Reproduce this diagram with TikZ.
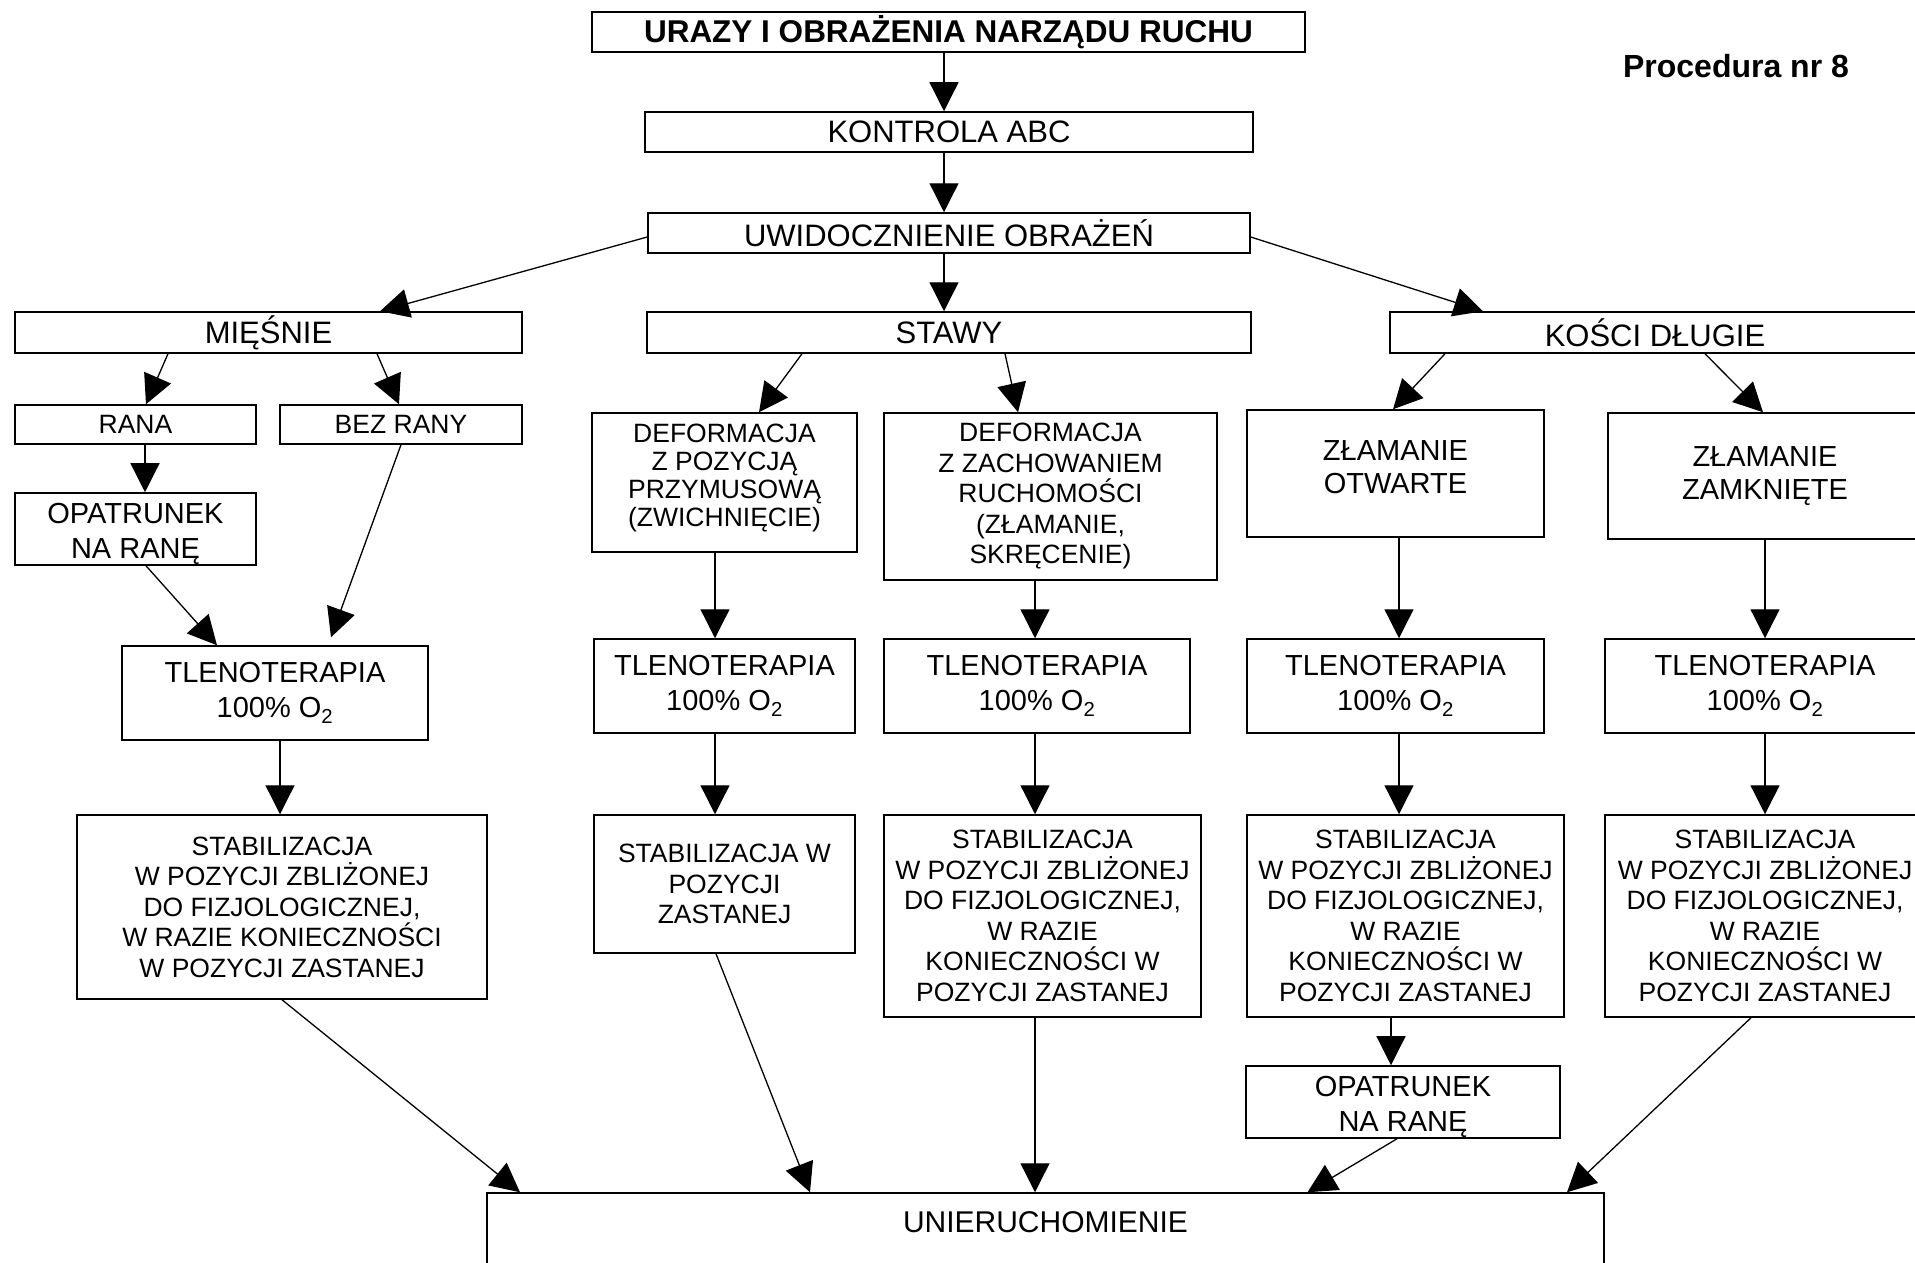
\documentclass[tikz,border=0pt]{standalone}
\usepackage{fontspec}
\setmainfont{Liberation Sans}
\usepackage{graphicx}
\usetikzlibrary{arrows.meta}
\tikzset{
  bx/.style={draw, line width=1.5pt, rectangle, inner sep=0pt, align=center},
  wh/.style 2 args={minimum width=#1pt, minimum height=#2pt},
  fA/.style={font=\fontsize{26.5}{30.5}\selectfont},
  fD/.style={font=\fontsize{26.5}{28}\selectfont},
  fB/.style={font=\fontsize{29}{35}\selectfont},
  fZ/.style={font=\fontsize{29}{33}\selectfont},
  fC/.style={font=\fontsize{31}{36}\selectfont},
  arr/.style={line width=1.3pt, -{Triangle[length=29pt,width=29pt]}},
}
\begin{document}
\begin{tikzpicture}[x=1pt,y=-1pt]
\useasboundingbox (0,0) rectangle (1915,1263);
\clip (0,0) rectangle (1915,1263);
\fill[white] (0,0) rectangle (1915,1263);

\node[bx,wh={713}{40},font=\bfseries\fontsize{31.5}{36}\selectfont] (top) at (948.5,32) {URAZY I OBRAŻENIA NARZĄDU RUCHU};
\node[font=\bfseries\fontsize{32}{38}\selectfont] (proc) at (1736,66) {Procedura nr 8};
\node[bx,fC,wh={608}{40}] (kontrola) at (949,132) {KONTROLA ABC};
\node[bx,fC,wh={602}{40}] (uwid) at (949,233) {UWIDOCZNIENIE OBRAŻEŃ};
\node[bx,fC,wh={507}{41}] (miesnie) at (268.5,332.5) {MIĘŚNIE};
\node[bx,fC,wh={604}{41}] (stawy) at (949,332.5) {STAWY};
\node[bx,fC,wh={530}{41}] (kosci) at (1655,332.5) {KOŚCI DŁUGIE};

\node[bx,fA,wh={241}{39}] (rana) at (135.5,424.5) {RANA};
\node[bx,fA,wh={242}{39}] (bezrany) at (401,424.5) {BEZ RANY};
\node[bx,fB,wh={241}{70}] (opat1) at (135.5,529) {\rule{0pt}{31pt}OPATRUNEK\\NA RANĘ};
\node[bx,fB,wh={306}{94}] (tleno1) at (275,693) {TLENOTERAPIA\\100\% O\textsubscript{2}};
\node[bx,fA,wh={410}{184}] (stab1) at (282,907) {STABILIZACJA\\W POZYCJI ZBLIŻONEJ\\DO FIZJOLOGICZNEJ,\\W RAZIE KONIECZNOŚCI\\W POZYCJI ZASTANEJ};

\node[bx,fD,wh={265}{139}] (def1) at (724.5,482.5) {DEFORMACJA\\Z POZYCJĄ\\PRZYMUSOWĄ\\(ZWICHNIĘCIE)\rule[-14pt]{0pt}{0pt}};
\node[bx,fB,wh={261}{94}] (tleno2) at (724.5,686) {TLENOTERAPIA\\100\% O\textsubscript{2}};
\node[bx,fA,wh={261}{138}] (stab2) at (724.5,884) {STABILIZACJA W\\POZYCJI\\ZASTANEJ};

\node[bx,fA,wh={333}{167}] (def2) at (1050.5,496.5) {DEFORMACJA\\Z ZACHOWANIEM\\RUCHOMOŚCI\\(ZŁAMANIE,\\SKRĘCENIE)};
\node[bx,fB,wh={306}{94}] (tleno3) at (1037,686) {TLENOTERAPIA\\100\% O\textsubscript{2}};
\node[bx,fA,wh={317}{202}] (stab3) at (1042.5,916) {STABILIZACJA\\W POZYCJI ZBLIŻONEJ\\DO FIZJOLOGICZNEJ,\\W RAZIE\\KONIECZNOŚCI W\\POZYCJI ZASTANEJ};

\node[bx,fZ,wh={297}{127}] (zlotw) at (1395.5,473.5) {ZŁAMANIE\\OTWARTE\rule[-12pt]{0pt}{0pt}};
\node[bx,fB,wh={297}{94}] (tleno4) at (1395.5,686) {TLENOTERAPIA\\100\% O\textsubscript{2}};
\node[bx,fA,wh={317}{202}] (stab4) at (1405.5,916) {STABILIZACJA\\W POZYCJI ZBLIŻONEJ\\DO FIZJOLOGICZNEJ,\\W RAZIE\\KONIECZNOŚCI W\\POZYCJI ZASTANEJ};
\node[bx,fB,wh={314}{70}] (opat2) at (1403,1102) {\rule{0pt}{31pt}OPATRUNEK\\NA RANĘ};

\node[bx,fZ,wh={314}{126}] (zlzam) at (1765,476) {ZŁAMANIE\\ZAMKNIĘTE};
\node[bx,fB,wh={320}{94}] (tleno5) at (1765,686) {TLENOTERAPIA\\100\% O\textsubscript{2}};
\node[bx,fA,wh={320}{202}] (stab5) at (1765,916) {STABILIZACJA\\W POZYCJI ZBLIŻONEJ\\DO FIZJOLOGICZNEJ,\\W RAZIE\\KONIECZNOŚCI W\\POZYCJI ZASTANEJ};

\node[bx,wh={1117}{100}] (unier) at (1045.5,1243) {};
\node[font=\fontsize{30}{36}\selectfont] (uniertxt) at (1045.5,1222) {UNIERUCHOMIENIE};

\draw[arr] ([xshift=-4.5pt]top.south) -- ([xshift=-5pt]kontrola.north);
\draw[arr] ([xshift=-5pt]kontrola.south) -- ([xshift=-5pt]uwid.north);
\draw[arr] ([xshift=-5pt]uwid.south) -- ([xshift=-5pt]stawy.north);
\draw[arr] ([yshift=-4pt]uwid.west) -- ([xshift=111.5pt]miesnie.north);
\draw[arr] ([yshift=-4pt]uwid.east) -- ([xshift=-172pt]kosci.north);
\draw[arr] ([xshift=-100.5pt]miesnie.south) -- ([xshift=10.5pt]rana.north);
\draw[arr] ([xshift=108.5pt]miesnie.south) -- ([xshift=-2pt]bezrany.north);
\draw[arr] ([xshift=-147pt]stawy.south) -- ([xshift=34.5pt]def1.north);
\draw[arr] ([xshift=56pt]stawy.south) -- ([xshift=-32.5pt]def2.north);
\draw[arr] ([xshift=-210pt]kosci.south) -- ([xshift=-2.5pt]zlotw.north);
\draw[arr] ([xshift=50pt]kosci.south) -- ([xshift=-2pt]zlzam.north);
\draw[arr] ([xshift=9.5pt]rana.south) -- ([xshift=9.5pt]opat1.north);
\draw[arr] ([xshift=10.5pt]opat1.south) -- ([xshift=-58pt]tleno1.north);
\draw[arr] (bezrany.south) -- ([xshift=56pt,yshift=8pt]tleno1.north);
\draw[arr] ([xshift=5pt]tleno1.south) -- ([xshift=-2pt]stab1.north);
\draw[arr] ([xshift=-9.5pt]def1.south) -- ([xshift=-9.5pt]tleno2.north);
\draw[arr] ([xshift=-9.5pt]tleno2.south) -- ([xshift=-9.5pt]stab2.north);
\draw[arr] ([xshift=-15.5pt]def2.south) -- ([xshift=-2pt]tleno3.north);
\draw[arr] ([xshift=-2pt]tleno3.south) -- ([xshift=-7.5pt]stab3.north);
\draw[arr] ([xshift=3.5pt]zlotw.south) -- ([xshift=3.5pt]tleno4.north);
\draw[arr] ([xshift=3.5pt]tleno4.south) -- ([xshift=-6.5pt]stab4.north);
\draw[arr] (zlzam.south) -- (tleno5.north);
\draw[arr] (tleno5.south) -- (stab5.north);
\draw[arr] (stab1.south) -- ([xshift=-525.5pt]unier.north);
\draw[arr] ([xshift=-8.5pt]stab2.south) -- ([xshift=-235.5pt]unier.north);
\draw[arr] ([xshift=-7.5pt]stab3.south) -- ([xshift=-10.5pt]unier.north);
\draw[arr] ([xshift=-14.5pt]stab4.south) -- ([xshift=-12pt]opat2.north);
\draw[arr] ([xshift=-6pt]opat2.south) -- ([xshift=262pt]unier.north);
\draw[arr] ([xshift=-14pt]stab5.south) -- ([xshift=521.5pt]unier.north);
\end{tikzpicture}
\end{document}
